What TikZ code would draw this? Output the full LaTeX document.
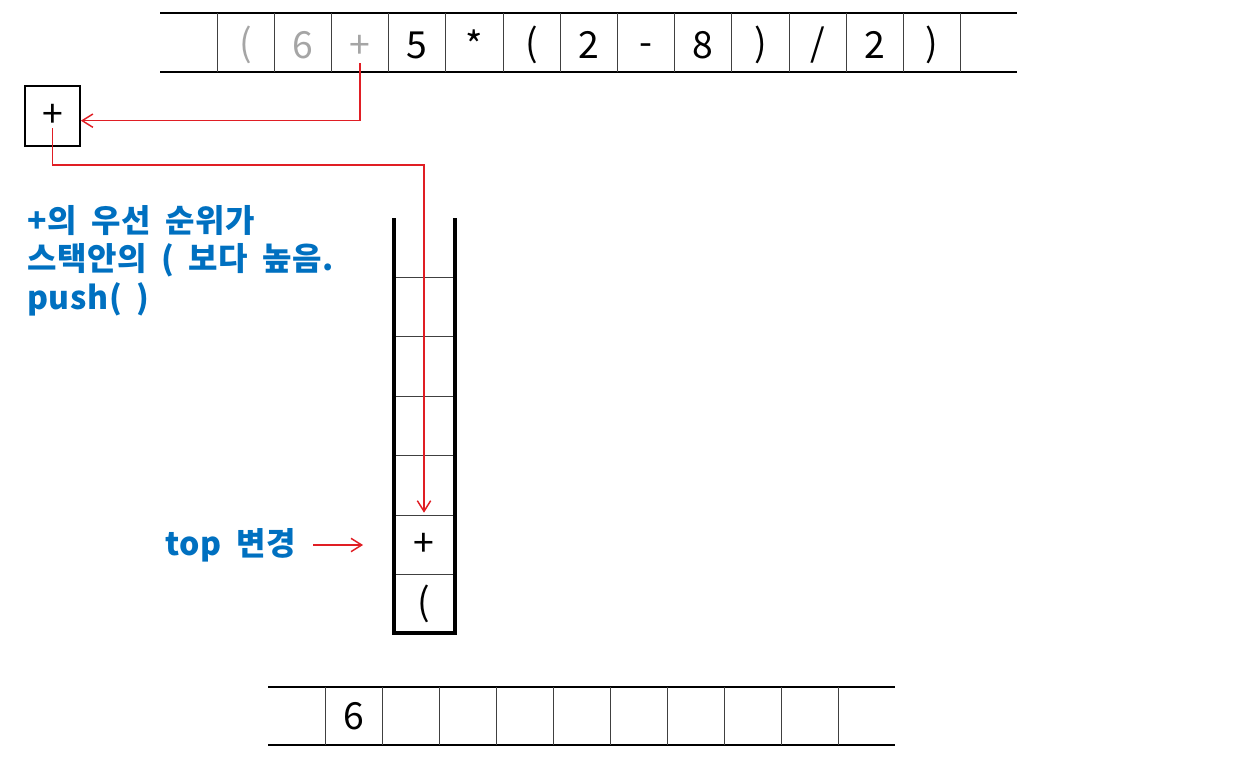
\documentclass[tikz,border=0pt]{standalone}
\usepackage{fontspec}
\setmainfont{Noto Sans CJK KR}
\newfontfamily\notefont[WordSpace=1.8,LetterSpace=2]{Noto Sans CJK KR}
\usetikzlibrary{arrows.meta}

\definecolor{linkred}{RGB}{224,30,36}
\definecolor{noteblue}{RGB}{0,112,192}
\definecolor{donegray}{RGB}{165,165,165}

\tikzset{
  cell/.style={font=\fontsize{28}{30}\selectfont, inner sep=0pt},
  done/.style={cell, text=donegray},
  slot/.style={cell, minimum width=45pt, minimum height=44pt},
  note/.style={font=\notefont\fontsize{24}{29}\selectfont\bfseries,
    text=noteblue, align=left, inner sep=0pt},
  link/.style={draw=linkred, line width=1.1pt, -{Straight Barb[length=8pt,width=10pt]}},
  rim/.style={line width=1.5pt},
  wall/.style={line width=3pt},
  sep/.style={line width=0.75pt, black!75}
}

\begin{document}
\begin{tikzpicture}[x=0.75pt, y=-0.75pt]
  \useasboundingbox (0,0) rectangle (1238,760);

  % infix expression
  \draw[rim] (160,13) -- (1017,13);
  \draw[rim] (160,72) -- (1017,72);
  \draw[sep] (217,13) -- (217,72) (274.2,13) -- (274.2,72) (331.4,13) -- (331.4,72)
    (388.6,13) -- (388.6,72) (445.8,13) -- (445.8,72) (503,13) -- (503,72)
    (560.2,13) -- (560.2,72) (617.4,13) -- (617.4,72) (674.6,13) -- (674.6,72)
    (731.8,13) -- (731.8,72) (789,13) -- (789,72) (846.2,13) -- (846.2,72)
    (903.4,13) -- (903.4,72) (960.6,13) -- (960.6,72);
  \node[done] (t1) at (245.6,45) {(};
  \node[done] (t2) at (302.8,45) {6};
  \node[done] (t3) at (360,47) {+};
  \node[cell] (t4) at (417.2,45) {5};
  \node[cell] (t5) at (474.4,45) {*};
  \node[cell] (t6) at (531.6,45) {(};
  \node[cell] (t7) at (588.8,45) {2};
  \node[cell] (t8) at (646,50) {-};
  \node[cell] (t9) at (703.2,45) {8};
  \node[cell] (t10) at (760.4,45) {)};
  \node[cell] (t11) at (817.6,45) {/};
  \node[cell] (t12) at (874.8,45) {2};
  \node[cell] (t13) at (932,45) {)};

  % current token
  \node[cell, draw, rim, minimum width=41pt, minimum height=45pt] (opbox) at (52.5,116) {+};

  % note
  \node[note, anchor=north west] (why) at (27,205) {+의 우선 순위가\\스택안의 ( 보다 높음.\\push( )};
  \node[note, anchor=east] (toplabel) at (296,545) {top 변경};

  % stack
  \draw[sep] (394,277) -- (454,277) (394,336) -- (454,336) (394,396) -- (454,396)
    (394,455) -- (454,455) (394,515) -- (454,515) (394,574) -- (454,574);
  \draw[wall] (393.5,218) -- (393.5,633) -- (454.5,633) -- (454.5,218);
  \node[slot] (s2) at (424,545) {+};
  \node[slot] (s1) at (424,604) {(};

  % postfix output
  \draw[rim] (268,687) -- (895,687);
  \draw[rim] (268,745) -- (895,745);
  \draw[sep] (325,687) -- (325,745) (382,687) -- (382,745) (439,687) -- (439,745)
    (496,687) -- (496,745) (553,687) -- (553,745) (610,687) -- (610,745)
    (667,687) -- (667,745) (724,687) -- (724,745) (781,687) -- (781,745)
    (838,687) -- (838,745);
  \node[cell] (o1) at (353.5,716) {6};

  % moves
  \coordinate (bend) at (424,165);
  \draw[link] ([yshift=-12pt]t3.center) |- ([yshift=-3.5pt]opbox.east);
  \draw[link] ([yshift=-9pt]opbox.center) |- (bend) -- ([yshift=2pt]s2.north);
  \draw[link] ([xshift=13pt]toplabel.east) -- ([xshift=-23pt]s2.west);
\end{tikzpicture}
\end{document}
